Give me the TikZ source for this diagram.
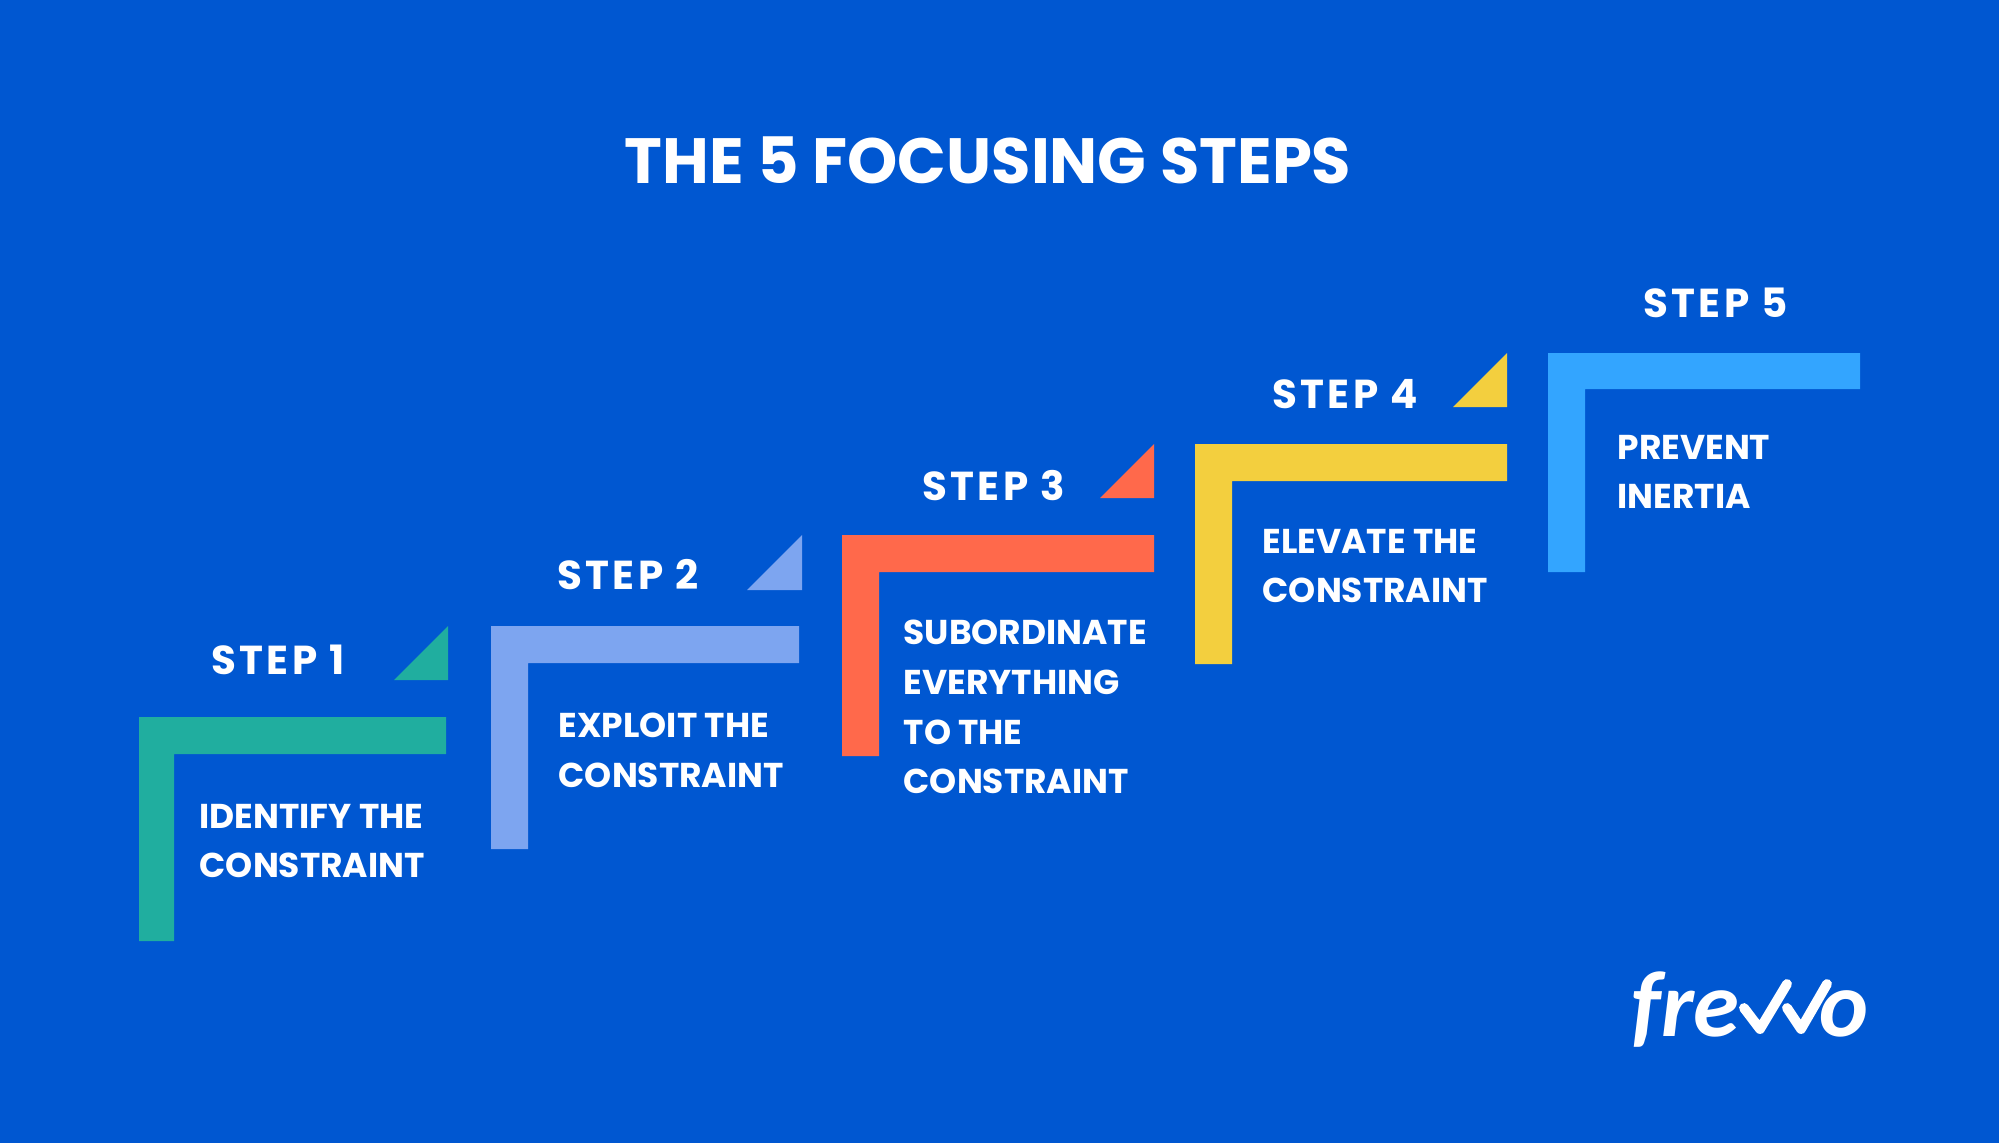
\documentclass[tikz,border=0pt]{standalone}
\usepackage{fontspec}
\setmainfont{Poppins}
\newfontfamily\stepfont[LetterSpace=8]{Poppins}
\newfontfamily\logofont{Carlito}
\usepackage{xcolor}
\definecolor{backblue}{HTML}{0057D1}
\definecolor{teal1}{HTML}{20AE9F}
\definecolor{lightblue}{HTML}{7DA5F0}
\definecolor{orange1}{HTML}{FF694B}
\definecolor{yellow1}{HTML}{F3CF3E}
\definecolor{skyblue}{HTML}{33A5FF}
\tikzset{
  steplabel/.style={anchor=west, inner sep=0pt, text=white, font=\fontsize{11.5}{14}\stepfont\bfseries},
  bodylabel/.style={anchor=west, inner sep=0pt, text=white, align=left, font=\fontsize{9.8}{14.17}\selectfont\bfseries},
  logotext/.style={anchor=base west, inner sep=0pt, text=white, font=\fontsize{26.5}{30}\logofont\bfseries\itshape},
  checkline/.style={white, line width=2.8pt, line cap=round, line join=round}
}
\begin{document}
\begin{tikzpicture}[yscale=-1]
\fill [backblue] (0,0) rectangle (19.99,11.43);
\useasboundingbox (0,0) rectangle (19.99,11.43);
%%%%%%%%% title
\node (title) [inner sep=0pt, text=white, font=\fontsize{18.2}{22}\selectfont\bfseries] at (9.88,1.60) {THE 5 FOCUSING STEPS};
%%%%%%%%% step 1
\fill [teal1] (1.39,7.17) -- (4.46,7.17) -- (4.46,7.54) -- (1.74,7.54) -- (1.74,9.41) -- (1.39,9.41) -- cycle;
\fill [teal1] (3.94,6.80) -- (4.48,6.26) -- (4.48,6.80) -- cycle;
\node (step1) [steplabel] at (2.11,6.60) {STEP 1};
\node (body1) [bodylabel] at (1.99,8.41) {IDENTIFY THE\\CONSTRAINT};
%%%%%%%%% step 2
\fill [lightblue] (4.91,6.26) -- (7.99,6.26) -- (7.99,6.63) -- (5.28,6.63) -- (5.28,8.49) -- (4.91,8.49) -- cycle;
\fill [lightblue] (7.47,5.90) -- (8.02,5.35) -- (8.02,5.90) -- cycle;
\node (step2) [steplabel] at (5.57,5.75) {STEP 2};
\node (body2) [bodylabel] at (5.58,7.50) {EXPLOIT THE\\CONSTRAINT};
%%%%%%%%% step 3
\fill [orange1] (8.42,5.35) -- (11.54,5.35) -- (11.54,5.72) -- (8.79,5.72) -- (8.79,7.56) -- (8.42,7.56) -- cycle;
\fill [orange1] (11.00,4.98) -- (11.54,4.44) -- (11.54,4.98) -- cycle;
\node (step3) [steplabel] at (9.22,4.86) {STEP 3};
\node (body3) [bodylabel] at (9.03,7.07) {SUBORDINATE\\EVERYTHING\\TO THE\\CONSTRAINT};
%%%%%%%%% step 4
\fill [yellow1] (11.95,4.44) -- (15.07,4.44) -- (15.07,4.81) -- (12.32,4.81) -- (12.32,6.64) -- (11.95,6.64) -- cycle;
\fill [yellow1] (14.53,4.07) -- (15.07,3.53) -- (15.07,4.07) -- cycle;
\node (step4) [steplabel] at (12.72,3.94) {STEP 4};
\node (body4) [bodylabel] at (12.62,5.66) {ELEVATE THE\\CONSTRAINT};
%%%%%%%%% step 5
\fill [skyblue] (15.48,3.53) -- (18.60,3.53) -- (18.60,3.89) -- (15.85,3.89) -- (15.85,5.72) -- (15.48,5.72) -- cycle;
\node (step5) [steplabel] at (16.43,3.03) {STEP 5};
\node (body5) [bodylabel] at (16.17,4.72) {PREVENT\\INERTIA};
%%%%%%%%% logo
\node (logofre) [logotext] at (16.31,10.36) {fre};
\node (logoo) [logotext] at (18.19,10.36) {o};
\draw [checkline] (17.44,10.08) -- (17.60,10.29) -- (17.87,9.84);
\draw [checkline] (17.87,10.08) -- (18.01,10.29) -- (18.27,9.84);
\end{tikzpicture}
\end{document}
